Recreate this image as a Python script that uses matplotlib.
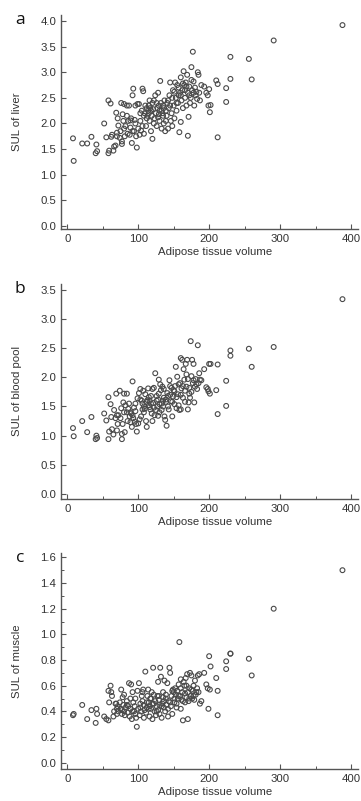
import matplotlib
matplotlib.use("Agg")
import matplotlib.pyplot as plt
from matplotlib.ticker import MultipleLocator, FormatStrFormatter

# Shared x values (adipose tissue volume)
adipose = [8, 9, 21, 28, 34, 40, 41, 42,
           52, 55, 58, 58, 59, 61, 62, 63, 65, 66, 68, 69, 70, 70,
           71, 72, 74, 75, 76, 77, 77, 78, 79, 80, 80, 81, 82, 84, 85, 86, 87, 88, 89, 89,
           90, 91, 92, 93, 94, 95, 96, 97, 98, 99, 100, 101, 102, 103, 104, 105, 106, 107, 108, 108, 109,
           110, 111, 112, 113, 114, 115, 116, 117, 118, 119, 120, 120, 121, 122, 123, 124, 125, 126, 127, 128, 128, 129, 130, 130,
           131, 132, 133, 134, 135, 136, 137, 138, 139, 140, 141, 142, 143, 144, 145, 146, 147, 148, 149, 150,
           151, 152, 153, 154, 155, 156, 157, 158, 159, 160, 160, 161, 162, 163, 164, 165, 166, 167, 168, 169, 170, 170,
           171, 172, 173, 174, 175, 176, 177, 178, 179, 180, 181, 183, 184, 185, 186, 187, 189,
           193, 196, 198, 199, 200, 201, 202, 210, 212, 212, 224, 224, 230, 230, 256, 260, 291, 388,
           84, 92, 96, 103, 106, 112, 115, 118, 122, 126, 129, 133, 136, 139, 142, 145, 148, 151, 154, 157,
           160, 163, 166, 168, 172, 175, 178, 182, 116, 135]

sul_liver = [1.71, 1.27, 1.61, 1.61, 1.74, 1.42, 1.59, 1.46,
             2.00, 1.73, 2.45, 1.42, 1.47, 2.39, 1.74, 1.78, 1.47, 1.55, 1.57, 2.21, 1.82, 1.75,
             2.10, 1.96, 1.72, 1.85, 2.40, 1.65, 1.60, 2.18, 2.05, 2.38, 1.90, 1.75, 1.95, 2.35, 1.80, 2.05, 2.35, 1.78, 1.92, 2.06,
             2.10, 1.62, 2.55, 2.68, 1.85, 2.07, 2.00, 1.75, 1.53, 2.38, 1.90, 2.38, 1.78, 2.05, 1.86, 2.25, 2.68, 2.63, 2.15, 1.80, 2.20,
             2.35, 1.95, 2.30, 2.15, 2.25, 2.20, 2.05, 2.30, 1.85, 2.15, 1.70, 2.40, 2.28, 2.45, 2.10, 2.55, 2.20, 1.95, 2.30, 2.60, 2.12, 2.35, 2.25, 2.05,
             2.83, 2.40, 1.90, 2.20, 2.35, 2.00, 2.45, 1.85, 2.25, 2.15, 2.40, 1.90, 2.30, 2.55, 2.80, 2.05, 2.20, 1.95, 2.65, 2.35,
             2.10, 2.80, 2.50, 2.25, 2.75, 2.40, 2.55, 1.83, 2.60, 2.90, 2.03, 2.45, 2.65, 2.30, 3.02, 2.75, 2.50, 2.80, 2.35, 2.95, 1.76, 2.60,
             2.13, 2.72, 2.40, 2.50, 3.10, 2.65, 3.40, 2.82, 2.35, 2.70, 2.55, 2.48, 3.00, 2.95, 2.60, 2.45, 2.75,
             2.72, 2.60, 2.55, 2.35, 2.67, 2.22, 2.36, 2.84, 2.77, 1.73, 2.42, 2.69, 2.87, 3.30, 3.26, 2.86, 3.62, 3.92,
             2.15, 1.85, 2.35, 2.20, 1.95, 2.10, 2.35, 2.25, 2.00, 2.40, 2.18, 2.25, 2.30, 2.05, 2.45, 2.35, 2.50, 2.62, 2.40, 2.70,
             2.55, 2.78, 2.65, 2.72, 2.55, 2.85, 2.60, 2.62, 2.45, 2.15]

sul_blood = [1.13, 0.99, 1.25, 1.06, 1.32, 0.94, 1.00, 0.96,
             1.38, 1.26, 1.66, 0.94, 1.07, 1.54, 1.32, 1.11, 1.02, 1.44, 1.30, 1.72, 1.09, 1.35,
             1.20, 1.35, 1.77, 1.30, 1.47, 0.94, 1.03, 1.20, 1.57, 1.72, 1.40, 1.06, 1.52, 1.72, 1.25, 1.46, 1.55, 1.33, 1.40, 1.23,
             1.38, 1.15, 1.93, 1.30, 1.48, 1.24, 1.42, 1.20, 1.07, 1.64, 1.21, 1.73, 1.28, 1.80, 1.33, 1.60, 1.55, 1.77, 1.50, 1.40, 1.46,
             1.71, 1.25, 1.15, 1.61, 1.81, 1.52, 1.49, 1.45, 1.68, 1.38, 1.25, 1.80, 1.56, 1.82, 1.35, 2.07, 1.44, 1.68, 1.50, 1.34, 1.62, 1.96, 1.54, 1.40,
             1.88, 1.78, 1.44, 1.84, 1.60, 1.65, 1.33, 1.27, 1.58, 1.17, 1.73, 1.50, 1.45, 1.95, 1.70, 1.59, 1.82, 1.33, 1.67, 1.78,
             1.54, 1.85, 2.18, 1.47, 2.01, 1.71, 1.52, 1.44, 1.90, 2.33, 1.45, 1.81, 2.30, 1.65, 2.14, 1.96, 1.58, 2.23, 1.84, 2.30, 1.45, 1.97,
             1.57, 1.72, 1.65, 2.62, 2.02, 2.30, 1.90, 2.23, 1.57, 1.84, 1.97, 1.80, 2.55, 1.90, 2.07, 1.96, 1.95,
             2.14, 1.83, 1.80, 1.76, 2.23, 1.72, 2.23, 1.78, 2.22, 1.37, 1.51, 1.94, 2.37, 2.46, 2.49, 2.18, 2.52, 3.34,
             1.40, 1.35, 1.55, 1.62, 1.45, 1.58, 1.66, 1.55, 1.48, 1.60, 1.72, 1.55, 1.80, 1.62, 1.68, 1.85, 1.58, 1.76, 1.66, 1.88,
             1.70, 1.85, 1.77, 2.05, 1.82, 1.75, 1.95, 1.88, 1.60, 1.50]

sul_muscle = [0.37, 0.38, 0.45, 0.34, 0.41, 0.31, 0.42, 0.38,
              0.36, 0.34, 0.56, 0.33, 0.47, 0.60, 0.55, 0.52, 0.36, 0.40, 0.46, 0.46, 0.42, 0.38,
              0.44, 0.40, 0.47, 0.42, 0.57, 0.38, 0.41, 0.51, 0.45, 0.53, 0.40, 0.37, 0.43, 0.48, 0.39, 0.44, 0.62, 0.36, 0.42, 0.50,
              0.61, 0.34, 0.55, 0.47, 0.40, 0.44, 0.38, 0.35, 0.28, 0.56, 0.42, 0.62, 0.37, 0.46, 0.40, 0.52, 0.48, 0.57, 0.45, 0.35, 0.41,
              0.71, 0.39, 0.43, 0.52, 0.57, 0.47, 0.36, 0.50, 0.42, 0.55, 0.34, 0.46, 0.74, 0.53, 0.40, 0.48, 0.37, 0.44, 0.52, 0.63, 0.41, 0.49, 0.45, 0.38,
              0.74, 0.67, 0.35, 0.46, 0.55, 0.43, 0.64, 0.40, 0.50, 0.45, 0.62, 0.36, 0.48, 0.74, 0.70, 0.44, 0.52, 0.38, 0.57, 0.55,
              0.47, 0.58, 0.53, 0.43, 0.56, 0.50, 0.61, 0.94, 0.52, 0.65, 0.42, 0.49, 0.55, 0.33, 0.63, 0.60, 0.47, 0.66, 0.51, 0.69, 0.34, 0.55,
              0.48, 0.58, 0.70, 0.52, 0.68, 0.50, 0.56, 0.60, 0.49, 0.64, 0.53, 0.58, 0.68, 0.55, 0.69, 0.46, 0.48,
              0.70, 0.61, 0.58, 0.42, 0.83, 0.57, 0.75, 0.66, 0.56, 0.37, 0.73, 0.79, 0.85, 0.85, 0.81, 0.68, 1.20, 1.50,
              0.45, 0.40, 0.50, 0.43, 0.55, 0.47, 0.42, 0.50, 0.46, 0.40, 0.52, 0.44, 0.48, 0.53, 0.42, 0.47, 0.56, 0.50, 0.46, 0.52,
              0.58, 0.48, 0.54, 0.60, 0.50, 0.57, 0.52, 0.55, 0.44, 0.51]

panel_letters = ["a", "b", "c"]
y_labels = ["SUL of liver", "SUL of blood pool", "SUL of muscle"]
x_label = "Adipose tissue volume"
x_ticks = [0, 100, 200, 300, 400]

W, H = 361, 801
fig = plt.figure(figsize=(W / 100, H / 100), dpi=100)
plt.rcParams['font.family'] = ['Liberation Sans', 'DejaVu Sans']

panels = [
    dict(box=(61, 358, 15, 229), ylim=(-0.059, 4.117), ymaj=0.5, ymin=None, y=sul_liver),
    dict(box=(61, 358, 284, 499), ylim=(-0.086, 3.60), ymaj=0.5, ymin=None, y=sul_blood),
    dict(box=(61, 358, 553, 769), ylim=(-0.049, 1.634), ymaj=0.2, ymin=0.1, y=sul_muscle),
]

text_col = "#333333"
spine_col = "#555555"
fs = 8.2

for i, p in enumerate(panels):
    l, r, t, b = p["box"]
    ax = fig.add_axes([l / W, 1 - b / H, (r - l) / W, (b - t) / H])
    ax.scatter(adipose, p["y"], s=12, facecolors="none", edgecolors="#4a4a4a", linewidths=0.8)
    ax.set_xlim(-8.9, 409.9)
    for s in ["top", "right"]:
        ax.spines[s].set_visible(False)
    for s in ["left", "bottom"]:
        ax.spines[s].set_color(spine_col)
        ax.spines[s].set_linewidth(1.0)
    ax.set_xticks(x_ticks)
    ax.xaxis.set_minor_locator(MultipleLocator(50))
    ax.yaxis.set_major_locator(MultipleLocator(p["ymaj"]))
    if p["ymin"]:
        ax.yaxis.set_minor_locator(MultipleLocator(p["ymin"]))
    ax.yaxis.set_major_formatter(FormatStrFormatter("%.1f"))
    ax.tick_params(which="major", direction="in", length=3.5, width=0.8, color=spine_col,
                   labelsize=fs, labelcolor=text_col)
    ax.tick_params(which="minor", direction="in", length=2, width=0.7, color=spine_col)
    ax.tick_params(axis="y", pad=3.5)
    ax.tick_params(axis="x", pad=3.5)
    ax.set_ylim(*p["ylim"])
    fig.text(17 / W, 1 - ((t + b) / 2) / H, y_labels[i], rotation=90, ha="center", va="center",
             fontsize=fs, color=text_col)
    fig.text(((l + r) / 2 + 6) / W, 1 - (b + 23) / H, x_label, ha="center", va="center",
             fontsize=fs, color=text_col)
    fig.text(20 / W, 1 - (t + 5) / H, panel_letters[i], ha="center", va="center",
             fontsize=12.5, color="#111111", family=["Open Sans", "DejaVu Sans"])

fig.savefig("out.png", dpi=100)
